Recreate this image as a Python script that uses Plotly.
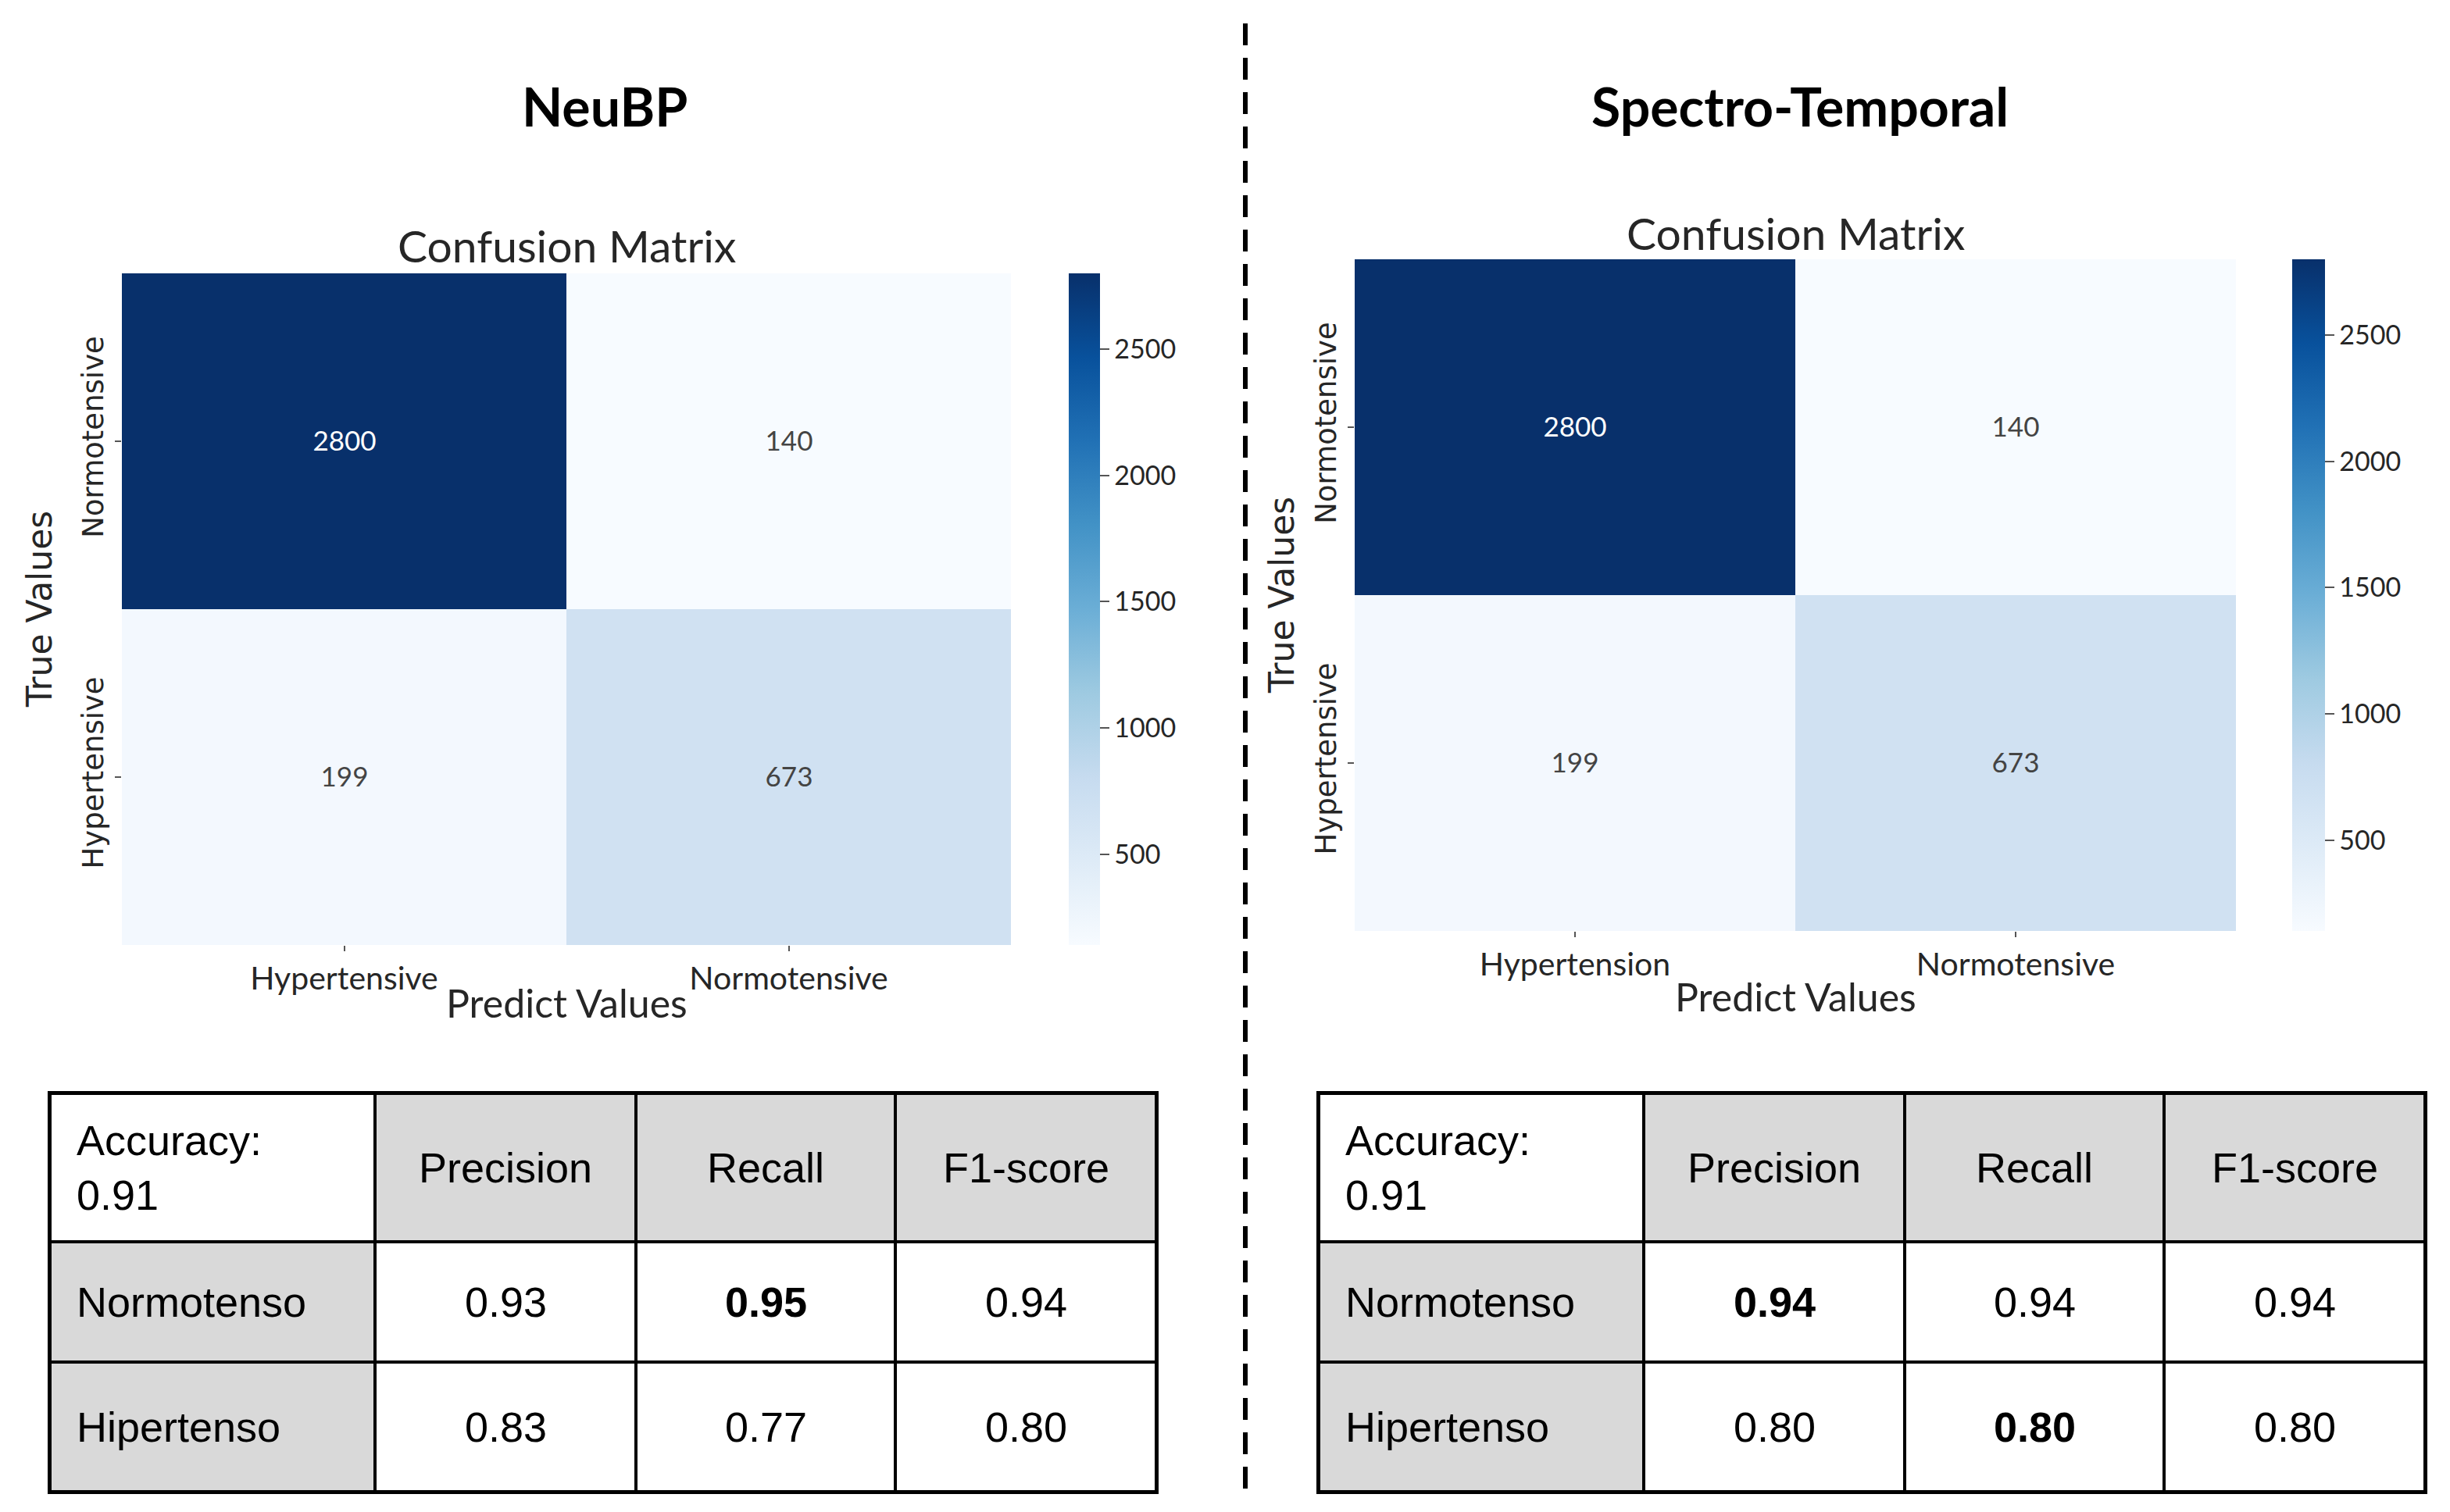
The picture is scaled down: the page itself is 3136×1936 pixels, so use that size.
import numpy as np
import plotly.graph_objects as go

# ---------------- data ----------------
true_labels = ["Normotensive", "Hypertensive"]
pred_labels_neubp = ["Hypertensive", "Normotensive"]
pred_labels_spectro = ["Hypertension", "Normotensive"]
cm_neubp = [[2800, 140], [199, 673]]
cm_spectro = [[2800, 140], [199, 673]]
cbar_ticks = [500, 1000, 1500, 2000, 2500]

metric_names = ["Precision", "Recall", "F1-score"]
row_names = ["Normotenso", "Hipertenso"]
accuracy_neubp = 0.91
accuracy_spectro = 0.91
neubp_normo = [0.93, 0.95, 0.94]
neubp_hiper = [0.83, 0.77, 0.80]
spectro_normo = [0.94, 0.94, 0.94]
spectro_hiper = [0.80, 0.80, 0.80]
# bold cells: (row index, metric index)
neubp_bold = [(0, 1)]
spectro_bold = [(0, 0), (1, 1)]

panel_titles = ["NeuBP", "Spectro-Temporal"]

# ---------------- styling ----------------
W, H = 3136, 1936
OFF = 8  # page body margin
FW, FH = W - 2 * OFF, H - 2 * OFF
BLUES = [[0.0, "#f7fbff"], [0.125, "#deebf7"], [0.25, "#c6dbef"], [0.375, "#9ecae1"],
         [0.5, "#6baed6"], [0.625, "#4292c6"], [0.75, "#2171b5"], [0.875, "#08519c"],
         [1.0, "#08306b"]]
CM_FONT = "Lato"
AX_FONT = "DejaVu Sans"
TB_FONT = "Liberation Sans"
TXT = "#262626"
GRAY = "#d9d9d9"


def fx(p):
    return (p - OFF) / FW


def fy(p):
    return 1 - (p - OFF) / FH


fig = go.Figure()

# panel geometry (pixels in the page)
panels = [
    dict(cm=cm_neubp, pred=pred_labels_neubp, x0=156, x1=1294, y0=350, y1=1210,
         cb_x=1368, cb_w=40, title_x=774, true_x=50, cmtitle_y=314, xlab_y=1284,
         ax="", acc=accuracy_neubp, normo=neubp_normo, hiper=neubp_hiper, bold=neubp_bold,
         tx=[64, 480, 814, 1146, 1480], tax="3"),
    dict(cm=cm_spectro, pred=pred_labels_spectro, x0=1734, x1=2862, y0=332, y1=1192,
         cb_x=2934, cb_w=42, title_x=2304, true_x=1640, cmtitle_y=298, xlab_y=1276,
         ax="2", acc=accuracy_spectro, normo=spectro_normo, hiper=spectro_hiper, bold=spectro_bold,
         tx=[1688, 2104, 2438, 2770, 3104], tax="4"),
]
table_rows_px = [1400, 1590, 1744, 1910]

annotations = []
layout_axes = {}

for i, p in enumerate(panels):
    z = np.array(p["cm"])
    xa = "x" + p["ax"]
    ya = "y" + p["ax"]
    fig.add_trace(go.Heatmap(
        z=z, x=p["pred"], y=true_labels, colorscale=BLUES,
        zmin=z.min(), zmax=z.max(),
        texttemplate="%{z}", textfont=dict(family=CM_FONT, size=35),
        hoverinfo="skip", xaxis=xa, yaxis=ya,
        colorbar=dict(x=fx(p["cb_x"]), xanchor="left", xpad=0, ypad=0,
                      y=fy((p["y0"] + p["y1"]) / 2), yanchor="middle",
                      len=(p["y1"] - p["y0"]) / FH, lenmode="fraction",
                      thickness=p["cb_w"], outlinewidth=0,
                      tickvals=cbar_ticks, ticks="outside", ticklen=12, tickwidth=2,
                      tickcolor="#555", tickfont=dict(family=CM_FONT, size=34, color=TXT)),
    ))
    layout_axes["xaxis" + p["ax"]] = dict(
        domain=[fx(p["x0"]), fx(p["x1"])], anchor=ya, showgrid=False, zeroline=False,
        ticks="outside", ticklen=7, tickwidth=2, tickcolor="#555",
        tickfont=dict(family=CM_FONT, size=41, color=TXT))
    layout_axes["yaxis" + p["ax"]] = dict(
        domain=[fy(p["y1"]), fy(p["y0"])], anchor=xa, autorange="reversed",
        showgrid=False, zeroline=False, tickangle=-90,
        ticks="outside", ticklen=8, tickwidth=2, tickcolor="#555",
        tickfont=dict(family=AX_FONT, size=37, color=TXT))

    cx = (p["x0"] + p["x1"]) / 2
    common = dict(xref="paper", yref="paper", showarrow=False, xanchor="center", yanchor="middle")
    annotations += [
        dict(text="<b>" + panel_titles[i] + "</b>", x=fx(p["title_x"]), y=fy(136),
             font=dict(family=CM_FONT, size=68, color="black"), **common),
        dict(text="Confusion Matrix", x=fx(cx), y=fy(p["cmtitle_y"]),
             font=dict(family=CM_FONT, size=57, color=TXT), **common),
        dict(text="Predict Values", x=fx(cx), y=fy(p["xlab_y"]),
             font=dict(family=CM_FONT, size=50, color=TXT), **common),
        dict(text="True Values", x=fx(p["true_x"]), y=fy((p["y0"] + p["y1"]) / 2), textangle=-90,
             font=dict(family=AX_FONT, size=44, color=TXT), **common),
    ]

    # ---- metrics table ----
    tx = p["tx"]
    xedges = [v - tx[0] for v in tx]
    yedges = [v - table_rows_px[0] for v in table_rows_px]
    fill = [[0, 1, 1, 1], [1, 0, 0, 0], [1, 0, 0, 0]]
    txa = "x" + p["tax"]
    tya = "y" + p["tax"]
    fig.add_trace(go.Heatmap(
        z=fill, x=xedges, y=yedges, colorscale=[[0, "white"], [1, GRAY]],
        zmin=0, zmax=1, showscale=False, xgap=4, ygap=4, hoverinfo="skip",
        xaxis=txa, yaxis=tya))
    layout_axes["xaxis" + p["tax"]] = dict(
        domain=[fx(tx[0]), fx(tx[-1])], anchor=tya, range=[xedges[0], xedges[-1]],
        showgrid=False, zeroline=False, showticklabels=False, ticks="",
        showline=True, mirror=True, linecolor="black", linewidth=3)
    layout_axes["yaxis" + p["tax"]] = dict(
        domain=[fy(table_rows_px[-1]), fy(table_rows_px[0])], anchor=txa,
        range=[yedges[-1], yedges[0]],
        showgrid=False, zeroline=False, showticklabels=False, ticks="",
        showline=True, mirror=True, linecolor="black", linewidth=3)

    ycent = [(yedges[k] + yedges[k + 1]) / 2 for k in range(3)]
    xcent = [(xedges[k] + xedges[k + 1]) / 2 for k in range(4)]
    tfont = dict(family=TB_FONT, size=54, color="black")
    annotations.append(dict(text="Accuracy:<br>%.2f" % p["acc"], x=xedges[0] + 32, y=ycent[0],
                            xref=txa, yref=tya, xanchor="left", yanchor="middle", align="left",
                            showarrow=False, font=tfont))
    for k, m in enumerate(metric_names):
        annotations.append(dict(text=m, x=xcent[k + 1], y=ycent[0], xref=txa, yref=tya,
                                xanchor="center", yanchor="middle", showarrow=False, font=tfont))
    for r, (rname, vals) in enumerate(zip(row_names, [p["normo"], p["hiper"]])):
        annotations.append(dict(text=rname, x=xedges[0] + 32, y=ycent[r + 1], xref=txa, yref=tya,
                                xanchor="left", yanchor="middle", showarrow=False, font=tfont))
        for k, v in enumerate(vals):
            s = "%.2f" % v
            if (r, k) in p["bold"]:
                s = "<b>" + s + "</b>"
            annotations.append(dict(text=s, x=xcent[k + 1], y=ycent[r + 1], xref=txa, yref=tya,
                                    xanchor="center", yanchor="middle", showarrow=False, font=tfont))

fig.update_layout(
    width=FW, height=FH, margin=dict(l=0, r=0, t=0, b=0),
    paper_bgcolor="white", plot_bgcolor="black",
    annotations=annotations, showlegend=False,
    shapes=[dict(type="line", xref="paper", yref="paper", x0=fx(1594), x1=fx(1594),
                 y0=fy(30), y1=fy(1910), line=dict(color="black", width=6, dash="28px,16px"))],
    **layout_axes,
)

fig.write_html("out.html")
